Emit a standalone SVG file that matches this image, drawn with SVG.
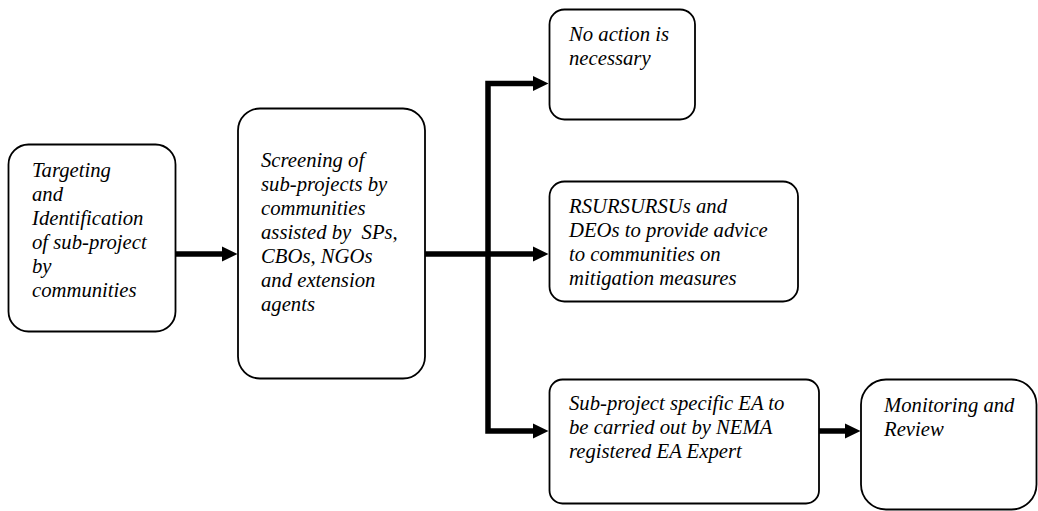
<svg xmlns="http://www.w3.org/2000/svg" width="1038" height="511" viewBox="0 0 1038 511">
<style>
.box{fill:#fff;stroke:#000;stroke-width:1.8}
.t{font-family:"Liberation Serif","Times New Roman",serif;font-style:italic;font-size:20.7px;fill:#000;white-space:pre}
.c{fill:none;stroke:#000;stroke-width:5.5;stroke-linejoin:miter}
</style>
<defs>
<marker id="ah" markerUnits="userSpaceOnUse" markerWidth="16" markerHeight="16" refX="1" refY="7.5" orient="auto" overflow="visible">
<path d="M0,0 L15.5,7.5 L0,15 z" fill="#000"/>
</marker>
</defs>
<rect width="1038" height="511" fill="#fff"/>
<g id="connectors">
<path class="c" d="M176,254 H223" marker-end="url(#ah)"/>
<path class="c" d="M425,254 H534" marker-end="url(#ah)"/>
<path class="c" d="M488,254 V83.5 H534" marker-end="url(#ah)"/>
<path class="c" d="M488,254 V431 H534" marker-end="url(#ah)"/>
<path class="c" d="M819,431 H846" marker-end="url(#ah)"/>
</g>
<g id="n1">
<rect class="box" x="8.5" y="144.5" width="167" height="187" rx="20"/>
<text class="t" x="32" y="177">Targeting</text>
<text class="t" x="32" y="201">and</text>
<text class="t" x="32" y="225">Identification</text>
<text class="t" x="32" y="249">of sub-project</text>
<text class="t" x="32" y="273">by</text>
<text class="t" x="32" y="297">communities</text>
</g>
<g id="n2">
<rect class="box" x="238" y="108.5" width="187" height="270" rx="22"/>
<text class="t" x="261" y="167">Screening of</text>
<text class="t" x="261" y="191">sub-projects by</text>
<text class="t" x="261" y="215">communities</text>
<text class="t" x="261" y="239">assisted by  SPs,</text>
<text class="t" x="261" y="263">CBOs, NGOs</text>
<text class="t" x="261" y="287">and extension</text>
<text class="t" x="261" y="311">agents</text>
</g>
<g id="n3">
<rect class="box" x="549.5" y="9.5" width="145.5" height="110" rx="15"/>
<text class="t" x="569" y="41">No action is</text>
<text class="t" x="569" y="65">necessary</text>
</g>
<g id="n4">
<rect class="box" x="549.5" y="181.5" width="248.5" height="120" rx="15"/>
<text class="t" x="569" y="213">RSURSURSUs and</text>
<text class="t" x="569" y="237">DEOs to provide advice</text>
<text class="t" x="569" y="261">to communities on</text>
<text class="t" x="569" y="285">mitigation measures</text>
</g>
<g id="n5">
<rect class="box" x="549.5" y="379.5" width="269.5" height="124" rx="13"/>
<text class="t" x="569" y="410">Sub-project specific EA to</text>
<text class="t" x="569" y="434">be carried out by NEMA</text>
<text class="t" x="569" y="458">registered EA Expert</text>
</g>
<g id="n6">
<rect class="box" x="861" y="379.5" width="175.5" height="130" rx="25"/>
<text class="t" x="884" y="412">Monitoring and</text>
<text class="t" x="884" y="436">Review</text>
</g>
</svg>
